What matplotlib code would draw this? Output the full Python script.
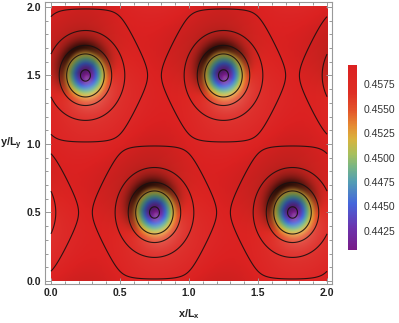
import numpy as np
import matplotlib
matplotlib.use("Agg")
import matplotlib.pyplot as plt
from matplotlib.colors import LinearSegmentedColormap, Normalize
from matplotlib.ticker import MultipleLocator, FixedLocator
import matplotlib.cm as cm

plt.rcParams['font.family'] = ['Liberation Sans', 'DejaVu Sans']
plt.rcParams['mathtext.fontset'] = 'custom'
plt.rcParams['mathtext.bf'] = 'Liberation Sans:bold'
plt.rcParams['mathtext.rm'] = 'Liberation Sans'

# well centres, in units of x/Lx and y/Ly
well_x = [0.25, 1.25, 0.75, 1.75]
well_y = [1.5, 1.5, 0.5, 0.5]

# field parameters
f_max = 0.4595
well_depth = 0.0163
well_width = 0.088
wave_amp = 0.0006

# radii (from a well centre, along x) where the contour lines sit
contour_r = [0.036, 0.136, 0.19, 0.285, 0.45]

cbar_ticks = [0.4425, 0.4450, 0.4475, 0.4500, 0.4525, 0.4550, 0.4575]
axis_ticks = [0.0, 0.5, 1.0, 1.5, 2.0]

# rainbow-ish colour function
rainbow_pos = [0.0, 0.12, 0.25, 0.37, 0.45, 0.52, 0.60, 0.67, 0.76, 0.85, 1.0]
rainbow_col = [(0.47, 0.11, 0.53), (0.42, 0.20, 0.68), (0.27, 0.40, 0.86),
               (0.33, 0.62, 0.70), (0.47, 0.71, 0.52), (0.66, 0.75, 0.36),
               (0.85, 0.70, 0.24), (0.90, 0.55, 0.20), (0.89, 0.32, 0.16),
               (0.87, 0.18, 0.14), (0.86, 0.13, 0.13)]
cmap = LinearSegmentedColormap.from_list('rainbow_m', list(zip(rainbow_pos, rainbow_col)))

s3 = np.sqrt(3) / 2.0
kmag = 4 * np.pi / np.sqrt(3)
kdirs = [np.pi / 2, -np.pi / 6, 7 * np.pi / 6]


def field(x, y):
    X = x
    Y = y * s3
    f = np.full_like(x, f_max)
    for wx, wy in zip(well_x, well_y):
        for sx in (-2, 0, 2):
            for sy in (-2, 0, 2):
                r2 = (X - wx - sx) ** 2 + (Y - (wy + sy) * s3) ** 2
                f -= well_depth * np.exp(-r2 / (2 * well_width ** 2))
    wave = np.zeros_like(x)
    for a in kdirs:
        wave += np.cos(kmag * (np.cos(a) * (X - well_x[0]) + np.sin(a) * (Y - well_y[0] * s3)))
    f -= wave_amp * (wave + 1.5)
    return f


n = 500
xs = np.linspace(0, 2, n)
ys = np.linspace(0, 2, n)
xx, yy = np.meshgrid(xs, ys)
zz = field(xx, yy)

vmin, vmax = zz.min(), zz.max()
norm = Normalize(vmin, vmax)
cval = norm(zz)
rgb = cmap(cval)[..., :3]

# fake 3D lighting like the original surface rendering
exag = 19.0
dzdy, dzdx = np.gradient(zz * exag, ys, xs)
nrm = np.sqrt(dzdx ** 2 + dzdy ** 2 + 1)
az = np.radians(340)
alt = np.radians(45)
lx, ly, lz = np.cos(alt) * np.sin(az), np.cos(alt) * np.cos(az), np.sin(alt)
shade = (-dzdx * lx - dzdy * ly + lz) / nrm / lz
shade = np.clip(shade, 0.0, 1.5)
# shading is strongest on the red plateau, softer in the coloured core
w = np.clip((cval - 0.62) / 0.18, 0, 1)
k = 0.3 + 0.62 * w
dark = 1 - k * (1 - shade)
out = np.where((shade < 1)[..., None], rgb * dark[..., None],
               rgb + (1 - rgb) * ((shade - 1) * 0.4)[..., None])
out = np.clip(out, 0, 1)

levels = sorted(field(np.array([well_x[0] + r for r in contour_r]),
                      np.array([well_y[0]] * len(contour_r))))

fig = plt.figure(figsize=(3.99, 3.23), dpi=100)
ax = fig.add_axes([45 / 399, 1 - 284 / 323, 287 / 399, 282 / 323])
ax.imshow(out, extent=[0, 2, 0, 2], origin='lower', interpolation='bilinear', aspect='auto')
ax.contour(xs, ys, zz, levels=levels, colors='#1a1010', linewidths=0.8, alpha=0.9)

ax.set_xlim(-0.043, 2.036)
ax.set_ylim(-0.022, 2.036)
ax.xaxis.set_major_locator(FixedLocator(axis_ticks))
ax.yaxis.set_major_locator(FixedLocator(axis_ticks))
ax.xaxis.set_minor_locator(MultipleLocator(0.1))
ax.yaxis.set_minor_locator(MultipleLocator(0.1))
ax.set_xticklabels(['%.1f' % t for t in axis_ticks])
ax.set_yticklabels(['%.1f' % t for t in axis_ticks])
ax.tick_params(which='both', direction='in', top=True, right=True, color='#999999',
               width=0.7, labelsize=7.5, labelcolor='#222222', pad=3)
ax.tick_params(which='major', length=4)
ax.tick_params(which='minor', length=2)
for lab in ax.get_xticklabels() + ax.get_yticklabels():
    lab.set_fontweight('bold')
for sp in ax.spines.values():
    sp.set_color('#999999')
    sp.set_linewidth(0.8)

ax.set_xlabel(r'$\mathbf{x/L_x}$', fontsize=7.8, color='#222222', va='center')
ax.xaxis.set_label_coords(0.502, -0.107)
ax.set_ylabel(r'$\mathbf{y/L_y}$', fontsize=7.8, color='#222222', rotation=0,
              ha='left', va='center')
ax.yaxis.set_label_coords(-0.157, 0.497)

cax = fig.add_axes([348 / 399, 1 - 250 / 323, 9 / 399, 185 / 323])
cb = fig.colorbar(cm.ScalarMappable(norm=norm, cmap=cmap), cax=cax)
cb.outline.set_visible(False)
cb.set_ticks(cbar_ticks)
cb.set_ticklabels(['%.4f' % t for t in cbar_ticks])
cax.tick_params(length=0, pad=5, labelsize=7.5, labelcolor='#333333')

fig.savefig('out.png', dpi=100)
